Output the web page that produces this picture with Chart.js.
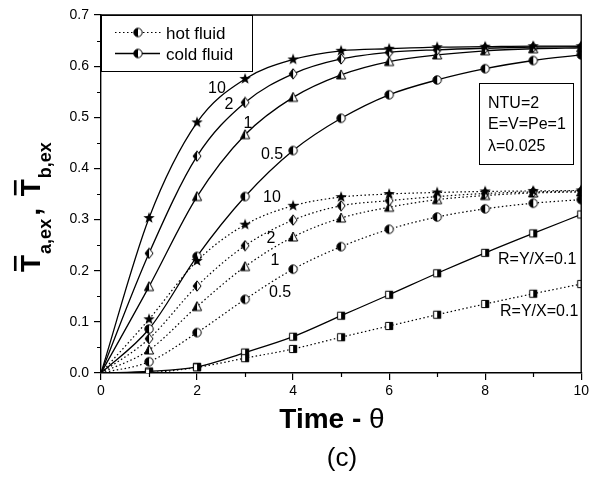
<!DOCTYPE html>
<html>
<head>
<meta charset="utf-8">
<script src="https://cdn.jsdelivr.net/npm/chart.js@4.4.1/dist/chart.umd.min.js"></script>
<style>
  html, body { margin: 0; padding: 0; background: #fff; }
  #wrap { width: 592px; height: 477px; }
</style>
</head>
<body>
<div id="wrap"><canvas id="c" width="592" height="477"></canvas></div>
<script>
// ─── Data ─────────────────────────────────────────────────────────────────────
const theta = [0, 1, 2, 3, 4, 5, 6, 7, 8, 9, 10];

// cold fluid, solid lines
const coldR10 = [0, 0.303, 0.490, 0.575, 0.613, 0.630, 0.634, 0.637, 0.638, 0.639, 0.639];
const coldR2  = [0, 0.234, 0.424, 0.529, 0.585, 0.614, 0.627, 0.632, 0.635, 0.637, 0.638];
const coldR1  = [0, 0.169, 0.345, 0.466, 0.539, 0.583, 0.609, 0.622, 0.630, 0.634, 0.636];
const coldR05 = [0, 0.086, 0.228, 0.345, 0.435, 0.498, 0.544, 0.573, 0.595, 0.611, 0.622];
const coldR01 = [0, 0.003, 0.012, 0.040, 0.071, 0.112, 0.153, 0.195, 0.235, 0.273, 0.310];

// hot fluid, dotted lines
const hotR10 = [0, 0.105, 0.219, 0.290, 0.327, 0.344, 0.350, 0.353, 0.355, 0.356, 0.357];
const hotR2  = [0, 0.067, 0.170, 0.249, 0.299, 0.327, 0.337, 0.345, 0.351, 0.354, 0.356];
const hotR1  = [0, 0.045, 0.130, 0.208, 0.266, 0.303, 0.324, 0.339, 0.347, 0.352, 0.354];
const hotR05 = [0, 0.022, 0.079, 0.144, 0.203, 0.247, 0.281, 0.305, 0.321, 0.332, 0.339];
const hotR01 = [0, 0.001, 0.011, 0.029, 0.047, 0.070, 0.092, 0.114, 0.135, 0.155, 0.174];

const yTicks = [0, 0.1, 0.2, 0.3, 0.4, 0.5, 0.6, 0.7];
const xTicks = [0, 2, 4, 6, 8, 10];

const paramLines = ['NTU=2', 'E=V=Pe=1', '\u03bb=0.025'];

const FONT = "'Liberation Sans', Arial, sans-serif";

// ─── Marker glyphs (half-filled Origin-style symbols) ─────────────────────────
function makeMarker(kind) {
  const s = kind === 'star' ? 14 : 12;
  const c = document.createElement('canvas');
  c.width = s; c.height = s;
  const g = c.getContext('2d');
  const m = s / 2;
  g.lineWidth = 1;
  g.strokeStyle = '#000';

  const path = () => {
    g.beginPath();
    if (kind === 'circle') {
      g.arc(m, m, 4.2, 0, Math.PI * 2);
    } else if (kind === 'diamond') {
      g.moveTo(m, m - 5.2); g.lineTo(m + 4, m); g.lineTo(m, m + 5.2); g.lineTo(m - 4, m);
      g.closePath();
    } else if (kind === 'triangle') {
      g.moveTo(m, m - 5); g.lineTo(m + 4.6, m + 4); g.lineTo(m - 4.6, m + 4);
      g.closePath();
    } else if (kind === 'square') {
      g.rect(m - 3.6, m - 3.6, 7.2, 7.2);
    } else if (kind === 'star') {
      for (let i = 0; i < 10; i++) {
        const r = i % 2 ? 2.4 : 6;
        const a = -Math.PI / 2 + i * Math.PI / 5;
        const px = m + r * Math.cos(a), py = m + r * Math.sin(a);
        i ? g.lineTo(px, py) : g.moveTo(px, py);
      }
      g.closePath();
    }
  };

  if (kind === 'star') {
    path(); g.fillStyle = '#000'; g.fill();
    return c;
  }
  path(); g.fillStyle = '#fff'; g.fill();
  g.save();
  g.beginPath();
  if (kind === 'square') g.rect(m, 0, m, s);   // right half dark
  else g.rect(0, 0, m, s);                      // left half dark
  g.clip();
  path(); g.fillStyle = '#000'; g.fill();
  g.restore();
  path(); g.stroke();
  return c;
}

const MK = {
  star: makeMarker('star'),
  diamond: makeMarker('diamond'),
  triangle: makeMarker('triangle'),
  circle: makeMarker('circle'),
  square: makeMarker('square'),
};

// ─── Datasets ─────────────────────────────────────────────────────────────────
const series = [
  { cold: coldR10, hot: hotR10, mk: MK.star },
  { cold: coldR2,  hot: hotR2,  mk: MK.diamond },
  { cold: coldR1,  hot: hotR1,  mk: MK.triangle },
  { cold: coldR05, hot: hotR05, mk: MK.circle },
  { cold: coldR01, hot: hotR01, mk: MK.square },
];

const toXY = arr => arr.map((v, i) => ({ x: theta[i], y: v }));
const noOrigin = theta.map(t => (t === 0 ? 0 : 5));

const datasets = [];
series.forEach(s => {
  datasets.push({
    data: toXY(s.hot),
    borderColor: '#000',
    borderWidth: 1.2,
    borderDash: [1.5, 2.5],
    pointStyle: s.mk,
    pointRadius: noOrigin,
    cubicInterpolationMode: 'monotone',
  });
  datasets.push({
    data: toXY(s.cold),
    borderColor: '#000',
    borderWidth: 1.3,
    pointStyle: s.mk,
    pointRadius: noOrigin,
    cubicInterpolationMode: 'monotone',
  });
});

// ─── Plugins ──────────────────────────────────────────────────────────────────
const framePlugin = {
  id: 'frame',
  afterDraw(chart) {
    const { ctx, chartArea: a } = chart;
    ctx.save();
    ctx.strokeStyle = '#000';
    ctx.lineWidth = 1.4;
    ctx.beginPath();
    ctx.moveTo(a.left, a.top); ctx.lineTo(a.right, a.top); ctx.lineTo(a.right, a.bottom);
    ctx.stroke();

    // minor ticks
    ctx.lineWidth = 1.2;
    const xs = chart.scales.x, ys = chart.scales.y;
    ctx.beginPath();
    for (let v = 1; v < 10; v += 2) {
      const px = Math.round(xs.getPixelForValue(v)) + 0.5;
      ctx.moveTo(px, a.bottom); ctx.lineTo(px, a.bottom + 4);
    }
    for (let k = 0; k < 7; k++) {
      const py = Math.round(ys.getPixelForValue(0.05 + k * 0.1)) + 0.5;
      ctx.moveTo(a.left, py); ctx.lineTo(a.left - 4, py);
    }
    ctx.stroke();
    ctx.restore();
  },
};

const annotPlugin = {
  id: 'annot',
  afterDraw(chart) {
    const { ctx } = chart;
    ctx.save();
    ctx.fillStyle = '#000';
    ctx.strokeStyle = '#000';

    // legend box
    ctx.lineWidth = 1;
    ctx.fillStyle = '#fff';
    ctx.fillRect(101, 15, 151, 56);
    ctx.strokeRect(101.5, 15.5, 151, 56);
    ctx.fillStyle = '#000';
    ctx.lineWidth = 1.2;
    ctx.setLineDash([1.5, 2.5]);
    ctx.beginPath(); ctx.moveTo(115, 32.5); ctx.lineTo(162, 32.5); ctx.stroke();
    ctx.setLineDash([]);
    ctx.lineWidth = 1.3;
    ctx.beginPath(); ctx.moveTo(115, 53.5); ctx.lineTo(160, 53.5); ctx.stroke();
    ctx.drawImage(MK.circle, 138 - 6, 32.5 - 6);
    ctx.drawImage(MK.circle, 138 - 6, 53.5 - 6);
    ctx.font = `17px ${FONT}`;
    ctx.textBaseline = 'alphabetic';
    ctx.textAlign = 'left';
    ctx.fillText('hot fluid', 166, 38.5);
    ctx.fillText('cold fluid', 166, 59.5);

    // parameter box
    ctx.fillStyle = '#fff';
    ctx.fillRect(479, 83, 94, 81);
    ctx.lineWidth = 1;
    ctx.strokeRect(479.5, 83.5, 94, 81);
    ctx.fillStyle = '#000';
    ctx.font = `16px ${FONT}`;
    ctx.fillText(paramLines[0], 488, 108);
    ctx.fillText(paramLines[1], 488, 129);
    ctx.fillText(paramLines[2], 488, 151);

    // curve labels
    ctx.font = `16px ${FONT}`;
    ctx.textAlign = 'center';
    ctx.textBaseline = 'middle';
    [['10', 217, 89], ['2', 229, 105], ['1', 248, 124], ['0.5', 272, 155],
     ['10', 272, 198], ['2', 271, 239], ['1', 275, 261], ['0.5', 280, 293]]
      .forEach(([t, x, y]) => ctx.fillText(t, x, y));
    ctx.textAlign = 'left';
    ctx.fillText('R=Y/X=0.1', 498, 260);
    ctx.fillText('R=Y/X=0.1', 500, 312);

    // x title: "Time - θ"
    ctx.textBaseline = 'alphabetic';
    ctx.font = `bold 28px ${FONT}`;
    const w1 = ctx.measureText('Time - ').width;
    ctx.font = `28px ${FONT}`;
    const w2 = ctx.measureText('\u03b8').width;
    const x0 = 332 - (w1 + w2) / 2;
    ctx.font = `bold 28px ${FONT}`;
    ctx.fillText('Time - ', x0, 428);
    ctx.font = `28px ${FONT}`;
    ctx.fillText('\u03b8', x0 + w1, 428);

    // caption
    ctx.font = `26px ${FONT}`;
    ctx.textAlign = 'center';
    ctx.fillText('(c)', 342, 466);

    // y title: T̄a,ex , T̄b,ex (rotated)
    ctx.translate(40, 272);
    ctx.rotate(-Math.PI / 2);
    ctx.textAlign = 'left';
    const big = `bold 28px ${FONT}`, sub = `bold 18px ${FONT}`;
    const tBar = x => {
      ctx.font = big;
      const w = ctx.measureText('T').width;
      ctx.fillText('T', x, 0);
      ctx.fillRect(x + 1, -28 * 0.716 - 6, w - 2, 2.6);
      return w;
    };
    let x = 0;
    x += tBar(x) + 1;
    ctx.font = sub; ctx.fillText('a,ex', x, 11);
    x += ctx.measureText('a,ex').width + 3;
    ctx.font = big; ctx.fillText(',', x, 0);
    x += ctx.measureText(', ').width + 4;
    x += tBar(x) + 1;
    ctx.font = sub; ctx.fillText('b,ex', x, 11);

    ctx.restore();
  },
};

// ─── Chart ────────────────────────────────────────────────────────────────────
new Chart(document.getElementById('c'), {
  type: 'line',
  data: { datasets },
  options: {
    responsive: false,
    animation: false,
    layout: { padding: { top: 15, right: 10, left: 0, bottom: 0 } },
    plugins: { legend: { display: false }, tooltip: { enabled: false } },
    scales: {
      x: {
        type: 'linear', min: 0, max: 10,
        afterFit(s) { s.height = 104; },
        afterBuildTicks(s) { s.ticks = xTicks.map(v => ({ value: v })); },
        ticks: { color: '#000', font: { size: 14, family: FONT }, padding: 3, maxRotation: 0 },
        grid: { drawOnChartArea: false, tickLength: 7, color: '#000', lineWidth: 1.2 },
        border: { color: '#000', width: 1.4 },
      },
      y: {
        type: 'linear', min: 0, max: 0.7,
        afterFit(s) { s.width = 101; },
        afterBuildTicks(s) { s.ticks = yTicks.map(v => ({ value: v })); },
        ticks: {
          color: '#000', font: { size: 14, family: FONT }, padding: 5,
          callback: v => v.toFixed(1),
        },
        grid: { drawOnChartArea: false, tickLength: 7, color: '#000', lineWidth: 1.2 },
        border: { color: '#000', width: 1.4 },
      },
    },
  },
  plugins: [framePlugin, annotPlugin],
});
</script>
</body>
</html>
